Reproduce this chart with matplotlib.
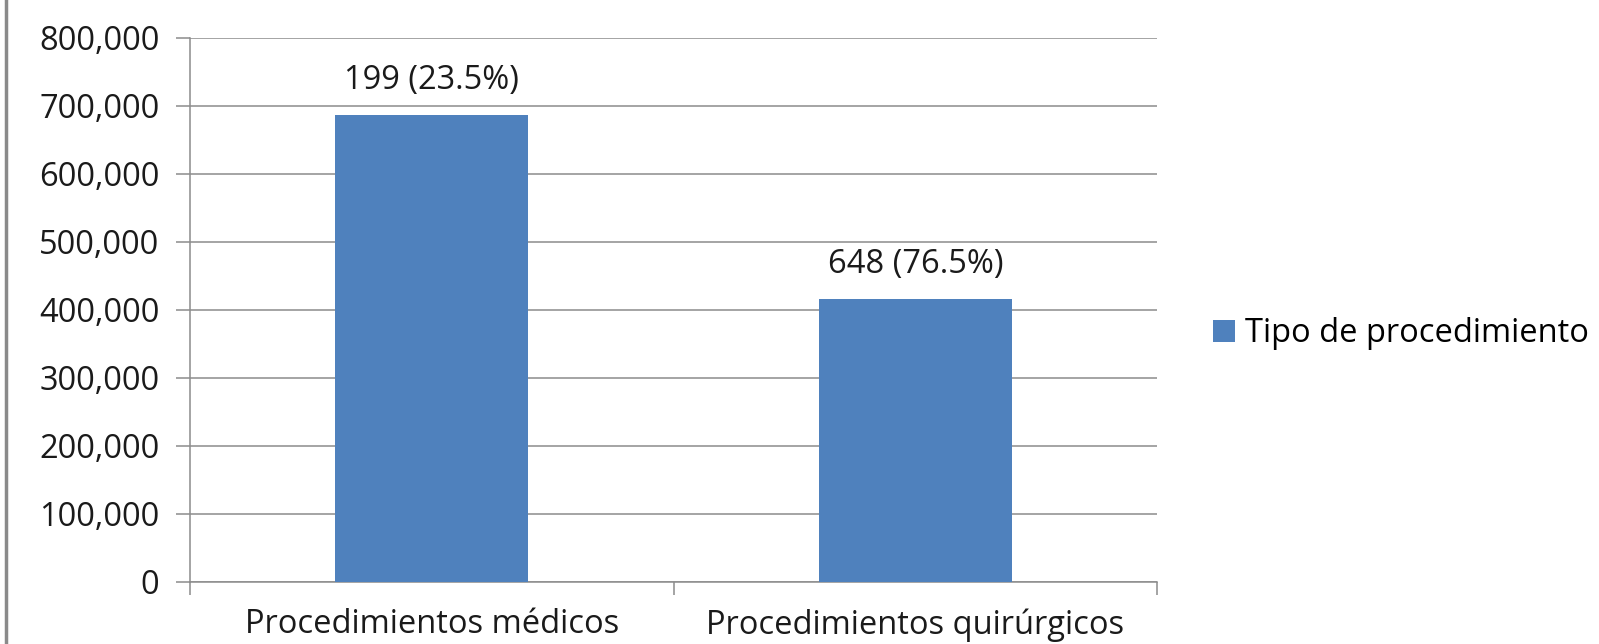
import matplotlib
matplotlib.use("Agg")
import matplotlib.pyplot as plt
from matplotlib.lines import Line2D
from matplotlib.patches import Patch
from matplotlib.ticker import FuncFormatter, MultipleLocator

categories = ["Procedimientos médicos", "Procedimientos quirúrgicos"]
values = [687000, 416000]
bar_labels = ["199 (23.5%)", "648 (76.5%)"]
series_name = "Tipo de procedimiento"

plt.rcParams['font.family'] = ['Open Sans', 'DejaVu Sans']
FS = 23.5

W, H = 1599, 644
fig = plt.figure(figsize=(W / 100, H / 100), dpi=100)
ax = fig.add_axes([190 / W, 1 - 582 / H, (1157 - 190) / W, (582 - 38) / H])

color = "#4F81BD"
grid_c = "#8C8C8C"
x = list(range(len(categories)))
ax.bar(x, values, width=0.4, color=color, zorder=3)
ax.set_xlim(-0.5, len(categories) - 0.5)
ax.set_ylim(0, 800000)
ax.yaxis.set_major_locator(MultipleLocator(100000))
ax.yaxis.set_major_formatter(FuncFormatter(lambda v, p: f"{int(v):,}"))

ax.grid(axis='y', color=grid_c, linewidth=1.1, zorder=0)
for s in ['top', 'right']:
    ax.spines[s].set_visible(False)
for s in ['left', 'bottom']:
    ax.spines[s].set_color(grid_c)
    ax.spines[s].set_linewidth(1.1)

ax.set_xticks(x)
ax.set_xticklabels(categories, fontsize=FS)
ax.tick_params(axis='x', length=0, pad=19)
ax.set_xticks([-0.5, 0.5, 1.5], minor=True)
ax.tick_params(axis='x', which='minor', length=9, color=grid_c, width=1.1)
ax.tick_params(axis='y', length=10, color=grid_c, width=1.1, labelsize=FS, pad=12)
for lab in ax.get_yticklabels() + ax.get_xticklabels():
    lab.set_color("#1a1a1a")

for xi, v, lab in zip(x, values, bar_labels):
    ax.annotate(lab, (xi, v), xytext=(0, 13), textcoords='offset points',
                ha='center', va='bottom', fontsize=FS, color="#1a1a1a")

handle = Patch(facecolor=color, edgecolor='none')
fig.legend([handle], [series_name], loc='center left',
           bbox_to_anchor=(1213 / W, 1 - 334 / H), frameon=False,
           fontsize=FS, handlelength=0.68, handleheight=0.68,
           handletextpad=0.3, borderaxespad=0, borderpad=0)

fig.add_artist(Line2D([6 / W, 6 / W], [0, 1], color="#8a8a8a", linewidth=2.5))

fig.savefig("out.png", dpi=100, facecolor='white')
